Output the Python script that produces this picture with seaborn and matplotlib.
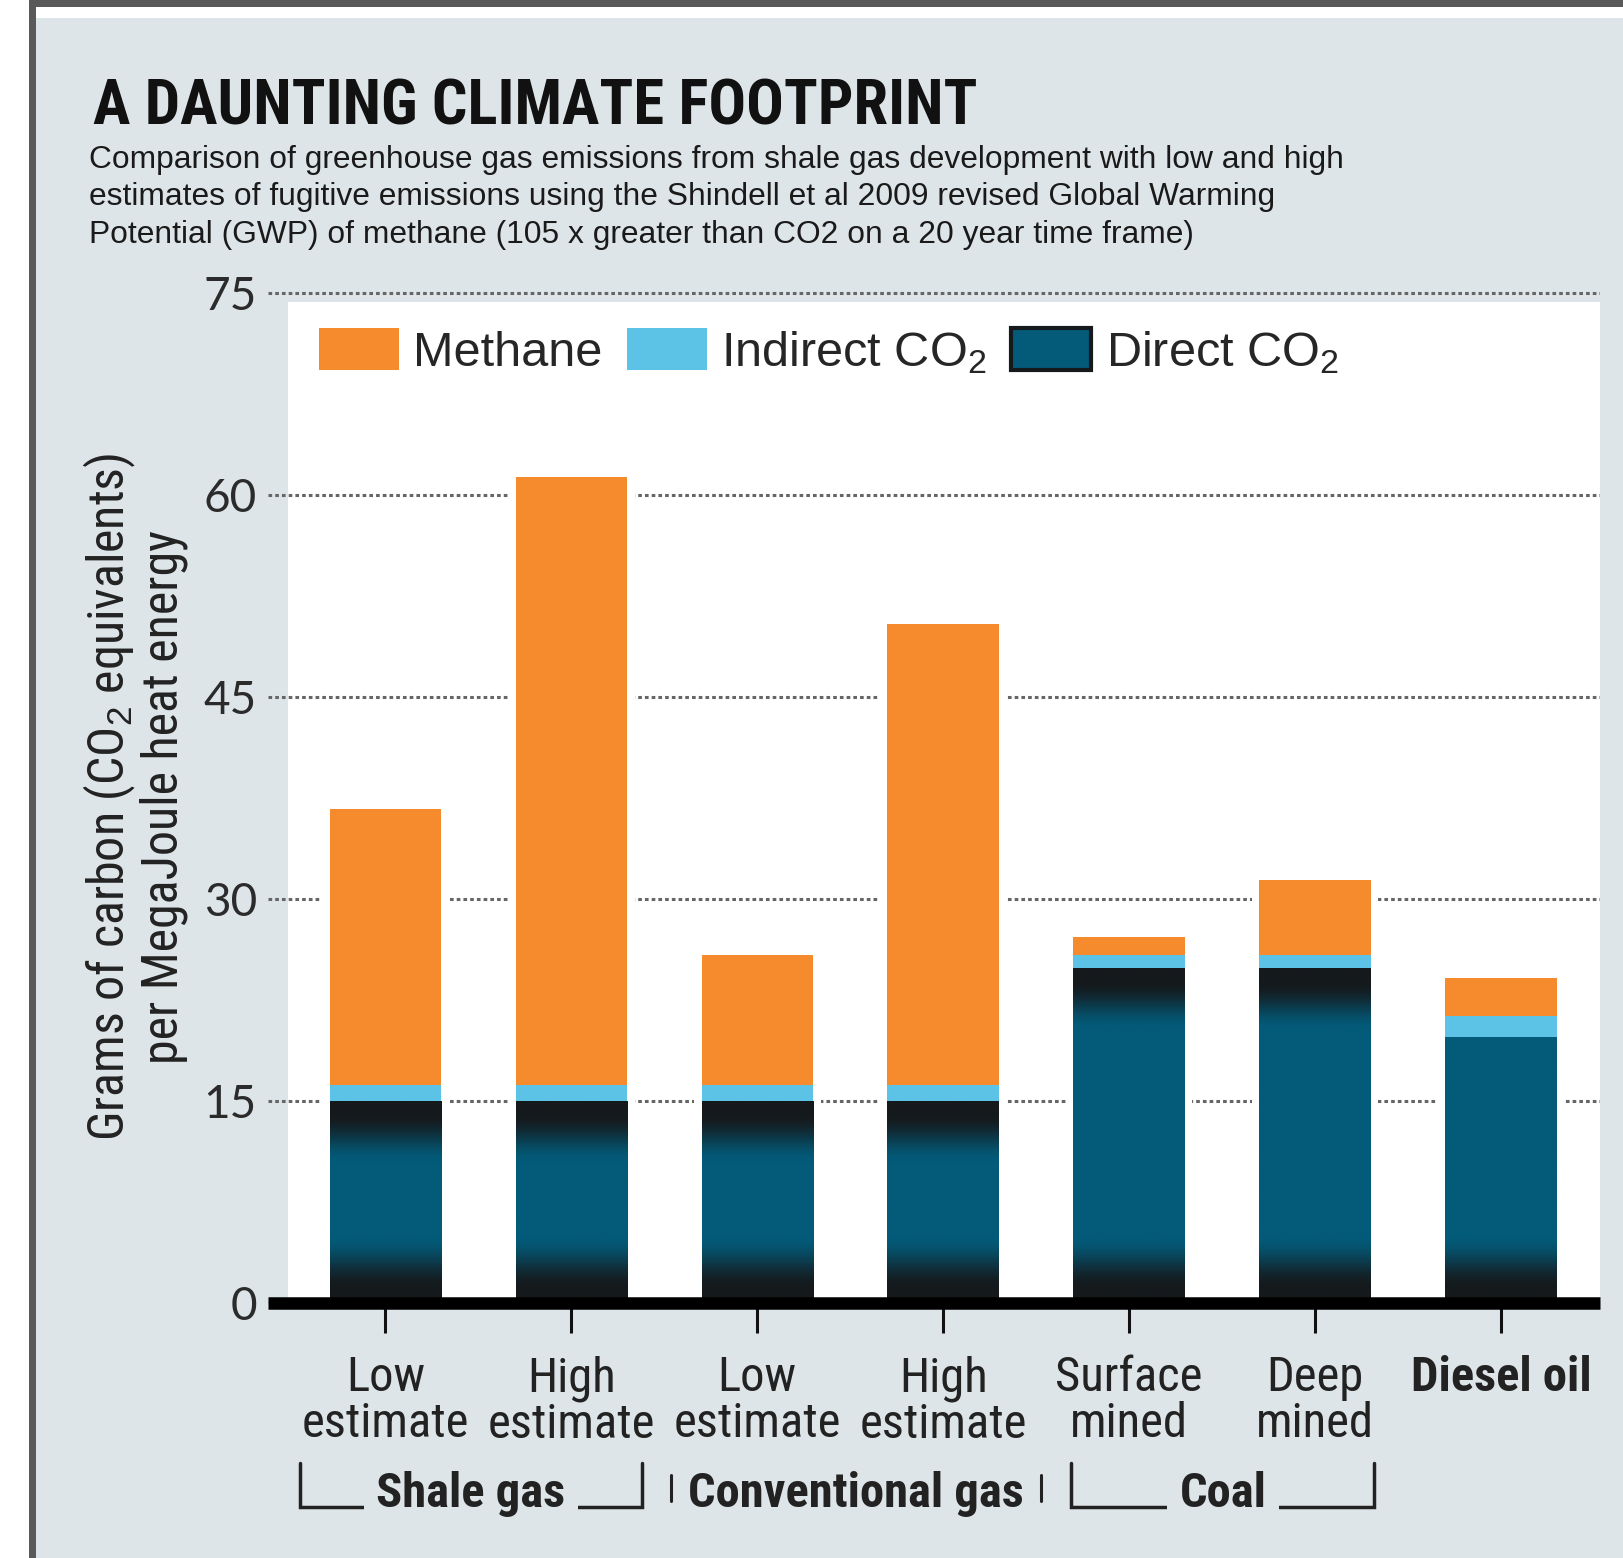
import matplotlib
matplotlib.use("Agg")
import matplotlib.pyplot as plt
from matplotlib import font_manager
from matplotlib.patches import Rectangle, Patch
from matplotlib.transforms import blended_transform_factory
import numpy as np
import pandas as pd
import seaborn as sns

# values (grams of carbon, CO2 equivalents, per MJ)
sources = ["Shale low", "Shale high", "Conventional low", "Conventional high",
           "Coal surface", "Coal deep", "Diesel oil"]
tick_labels = ["Low\nestimate", "High\nestimate", "Low\nestimate", "High\nestimate",
               "Surface\nmined", "Deep\nmined", "Diesel oil"]
direct_co2 = [15.0, 15.0, 15.0, 15.0, 24.9, 24.85, 19.75]
indirect_co2 = [1.2, 1.2, 1.2, 1.2, 0.9, 0.95, 1.55]
methane = [20.5, 45.1, 9.6, 34.2, 1.4, 5.6, 2.85]
group_names = ["Shale gas", "Conventional gas", "Coal"]
y_ticks = [0, 15, 30, 45, 60, 75]

# bracket extents under the labels (x in category units)
bracket_x = [(-0.46, 1.38), (1.535, 3.525), (3.69, 5.32)]

df = pd.DataFrame({"source": sources, "direct": direct_co2,
                   "indirect": indirect_co2, "methane": methane})
df["fossil"] = df["direct"] + df["indirect"]
df["total"] = df["fossil"] + df["methane"]

# colours
bg = "#dee5e8"
orange = "#f58b2d"
light_blue = "#5cc3e6"
teal = "#035b79"
dark = "#15191c"

sns.set_style("white")
names = {f.name for f in font_manager.fontManager.ttflist}


def pick(*cands):
    for c in cands:
        if c in names:
            return c
    return "DejaVu Sans"


narrow = pick("Liberation Sans Narrow", "Roboto Condensed", "DejaVu Sans Condensed", "Liberation Sans")
sans = pick("Liberation Sans", "Arimo", "DejaVu Sans")
digits = pick("Lato", "Open Sans", "DejaVu Sans")
plt.rcParams["font.family"] = [sans, "DejaVu Sans"]
plt.rcParams["mathtext.fontset"] = "custom"
plt.rcParams["mathtext.rm"] = sans
plt.rcParams["mathtext.it"] = sans

fig = plt.figure(figsize=(16.24, 15.58), dpi=100, facecolor=bg)

# page frame
for x, y, w, h, c in [(0, 0, 0.01786, 1, "white"),
                      (0.01786, 0, 0.00431, 1, "#595959"),
                      (0.01786, 0.99551, 0.98214, 0.00449, "#595959"),
                      (0.02217, 0.98845, 0.97783, 0.00706, "white")]:
    fig.patches.append(Rectangle((x, y), w, h, transform=fig.transFigure,
                                 fc=c, ec="none", zorder=0))

ax = fig.add_axes([0.16502, 0.16367, 0.82020, 0.65359])
ax.set_facecolor("none")

# white plotting panel
ax.add_patch(Rectangle((0.015, 0), 0.985, 74.3,
                       transform=blended_transform_factory(ax.transAxes, ax.transData),
                       fc="white", ec="none", zorder=0.1))

# white halo so the dotted grid stops short of the bars
sns.barplot(data=df, x="source", y="total", color="white", width=0.68,
            saturation=1, errorbar=None, linewidth=0, ax=ax, zorder=0.8)
sns.barplot(data=df, x="source", y="total", color=orange, width=0.6,
            saturation=1, errorbar=None, linewidth=0, ax=ax, zorder=1)
sns.barplot(data=df, x="source", y="fossil", color=light_blue, width=0.6,
            saturation=1, errorbar=None, linewidth=0, ax=ax, zorder=1.1)
sns.barplot(data=df, x="source", y="direct", color=teal, width=0.6,
            saturation=1, errorbar=None, linewidth=0, ax=ax, zorder=1.2)
direct_bars = ax.containers[-1]

# dark shading at top and bottom of the direct CO2 bars
teal_rgb = np.array(matplotlib.colors.to_rgb(teal))
dark_rgb = np.array(matplotlib.colors.to_rgb(dark))
top_shade = [1, 1, 1, 1, 1, 1, 0]
for bar, ts in zip(direct_bars, top_shade):
    x0, w, h = bar.get_x(), bar.get_width(), bar.get_height()
    lev = np.linspace(0, h, 300)
    d_bot = np.clip((5.0 - lev) / 4.0, 0, 1)
    d_top = ts * np.clip((4.6 - (h - lev)) / 3.6, 0, 1)
    d = np.maximum(d_bot, d_top)
    d = d * d * (3 - 2 * d)
    rgb = teal_rgb[None, :] * (1 - d[:, None]) + dark_rgb[None, :] * d[:, None]
    im = ax.imshow(rgb[:, None, :], extent=[x0, x0 + w, 0, h], origin="lower",
                   aspect="auto", interpolation="bilinear", zorder=1.3)
    im.set_clip_path(bar)

ax.set_xlim(-0.632, 6.533)
ax.set_ylim(0, 75.6)

# grid
ax.set_yticks(y_ticks)
ax.set_axisbelow(True)
ax.yaxis.grid(True, color="#666666", linewidth=2.2, linestyle=(0, (1.2, 1.0)))
ax.xaxis.grid(False)

for s in ["top", "right", "left"]:
    ax.spines[s].set_visible(False)
ax.spines["bottom"].set_linewidth(9)
ax.spines["bottom"].set_color("black")
ax.spines["bottom"].set_capstyle("butt")
ax.spines["bottom"].set_zorder(3)

ax.set_xticks(range(len(sources)))
ax.set_xticklabels(tick_labels, fontfamily=narrow, fontsize=35, color="#222222",
                   linespacing=1.0)
ax.get_xticklabels()[-1].set_fontweight("bold")
ax.tick_params(axis="x", length=21.6, width=2.2, color="#111111", pad=16,
               direction="out", bottom=True)
ax.tick_params(axis="y", length=0, pad=8, labelsize=33, labelcolor="#2b2b2b",
               labelfontfamily=digits)

ax.set_xlabel("")
ax.set_ylabel("Grams of carbon (CO$_2$ equivalents)\nper MegaJoule heat energy",
              fontfamily=narrow, fontsize=36, color="#222222", linespacing=1.05)
ax.yaxis.set_label_coords(-0.060, 0.497)

# legend
handles = [Patch(fc=orange, ec="none"), Patch(fc=light_blue, ec="none"),
           Patch(fc=teal, ec=dark, lw=3)]
labels = ["Methane", "Indirect CO$_2$", "Direct CO$_2$"]
ax.legend(handles, labels, loc="center left", bbox_to_anchor=(0.0383, 0.934),
          ncol=3, frameon=False, prop={"family": sans, "size": 35},
          handlelength=1.65, handleheight=0.97, handletextpad=0.29,
          columnspacing=0.5, borderpad=0, borderaxespad=0)

# group brackets under the tick labels
tr = blended_transform_factory(ax.transData, fig.transFigure)
y_top, y_bot, y_txt = 0.0610, 0.0327, 0.0411
for name, (left, right) in zip(group_names, bracket_x):
    if name == "Conventional gas":
        for xx in (left, right):
            ax.plot([xx, xx], [0.0363, 0.0530], transform=tr, color="#222222",
                    lw=2.2, clip_on=False)
        box = None
    else:
        ax.plot([left, left, right, right], [y_top, y_bot, y_bot, y_top],
                transform=tr, color="#222222", lw=2.5, clip_on=False,
                solid_joinstyle="miter")
        box = dict(fc=bg, ec="none", pad=9)
    ax.text((left + right) / 2, y_txt, name, transform=tr, ha="center", va="center",
            fontfamily=narrow, fontweight="bold", fontsize=35, color="#222222",
            bbox=box)

# title and subtitle
fig.text(0.0573, 0.9204, "A DAUNTING CLIMATE FOOTPRINT", fontfamily=narrow,
         fontweight="bold", fontsize=45, color="#111111", va="baseline")
sub_lines = ["Comparison of greenhouse gas emissions from shale gas development with low and high",
             "estimates of fugitive emissions using the Shindell et al 2009 revised Global Warming",
             "Potential (GWP) of methane (105 x greater than CO2 on a 20 year time frame)"]
for line, yy in zip(sub_lines, [0.8922, 0.8684, 0.8440]):
    fig.text(0.0548, yy, line, fontfamily=sans, fontsize=22.9, color="#1a1a1a",
             va="baseline")

fig.savefig("out.png", dpi=100, facecolor=bg)
